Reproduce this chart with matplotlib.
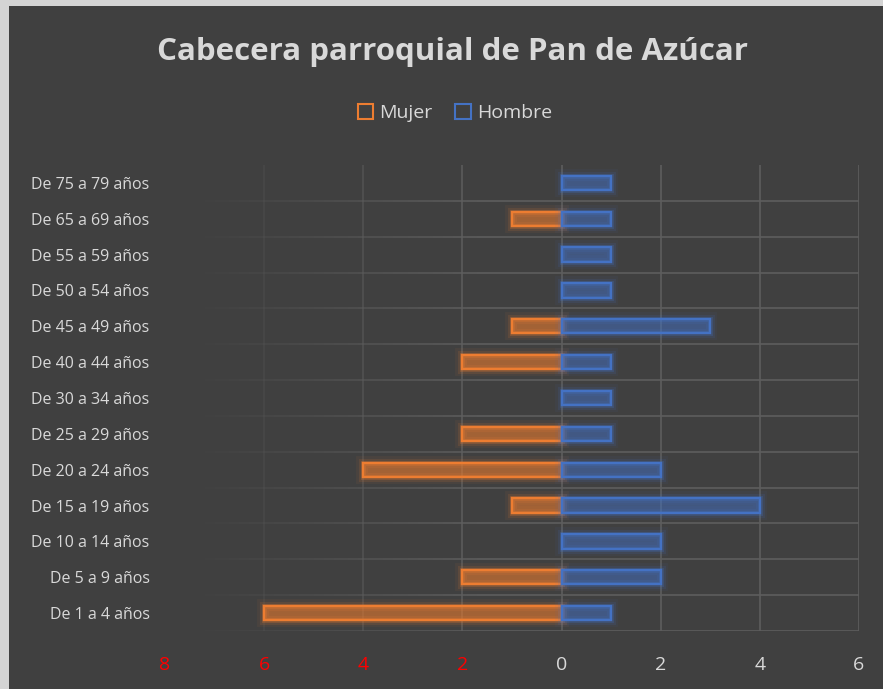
import matplotlib.pyplot as plt
import matplotlib.patheffects as pe
from matplotlib.patches import Rectangle
from matplotlib.collections import LineCollection
import numpy as np

plt.rcParams['font.family'] = ['Open Sans', 'DejaVu Sans']

grupos = ['De 75 a 79 años', 'De 65 a 69 años', 'De 55 a 59 años', 'De 50 a 54 años',
          'De 45 a 49 años', 'De 40 a 44 años', 'De 30 a 34 años', 'De 25 a 29 años',
          'De 20 a 24 años', 'De 15 a 19 años', 'De 10 a 14 años', 'De 5 a 9 años',
          'De 1 a 4 años']
mujer = [0, 1, 0, 0, 1, 2, 0, 2, 4, 1, 0, 2, 6]
hombre = [1, 1, 1, 1, 3, 1, 1, 1, 2, 4, 2, 2, 1]
xticks = [-8, -6, -4, -2, 0, 2, 4, 6]

bg = '#404040'
txt = '#d9d9d9'
naranja = '#ed7d31'
azul = '#4472c4'
grid = '#5e5e5e'

fig = plt.figure(figsize=(8.83, 6.89), dpi=100, facecolor='#d4d4d4')
fig.patches.append(Rectangle((9 / 883, 0), 1, 1 - 6 / 689, transform=fig.transFigure,
                             facecolor=bg, edgecolor='none', zorder=-5))
ax = fig.add_axes([165 / 883, 58 / 689, 694 / 883, 466 / 689])
ax.set_facecolor(bg)

n = len(grupos)
y = np.arange(n)[::-1]


def glow(c):
    return [pe.Stroke(linewidth=10, foreground=c, alpha=0.06),
            pe.Stroke(linewidth=6.5, foreground=c, alpha=0.12),
            pe.Stroke(linewidth=3.5, foreground=c, alpha=0.25),
            pe.Normal()]


for i in range(n):
    if mujer[i] > 0:
        b = ax.barh(y[i], -mujer[i], height=0.4,
                    facecolor=(0.93, 0.49, 0.19, 0.28), edgecolor=naranja, linewidth=1.7, zorder=3)
        b[0].set_path_effects(glow(naranja))
    b = ax.barh(y[i], hombre[i], height=0.4,
                facecolor=(0.27, 0.45, 0.77, 0.18), edgecolor=azul, linewidth=1.7, zorder=3)
    b[0].set_path_effects(glow(azul))

ax.set_xlim(-8, 6)
ax.set_ylim(-0.5, n - 0.5)
ax.set_xticks(xticks)
ax.set_xticklabels([str(abs(v)) for v in xticks], fontsize=14)
for lab, v in zip(ax.get_xticklabels(), xticks):
    lab.set_color('#ff0000' if v < 0 else txt)
ax.set_yticks(y)
ax.set_yticklabels(grupos, fontsize=11.5, color=txt)
ax.tick_params(length=0)
ax.tick_params(axis='x', pad=18)
ax.tick_params(axis='y', pad=11)

# gridlines fade out towards the left edge
def fade(x):
    return float(np.clip((x + 7.5) / 6.0, 0, 1))

for v in xticks[1:]:
    ax.axvline(v, color=grid, linewidth=1.2, alpha=max(fade(v), 0.15), zorder=1)
xs = np.linspace(-8, 6, 141)
for k in range(n):
    segs = [[(xs[j], k - 0.5), (xs[j + 1], k - 0.5)] for j in range(len(xs) - 1)]
    cols = [(0.37, 0.37, 0.37, fade(xs[j])) for j in range(len(xs) - 1)]
    ax.add_collection(LineCollection(segs, colors=cols, linewidths=1.2, zorder=1))
for s in ax.spines.values():
    s.set_visible(False)

fig.text(452 / 883, 1 - 52 / 689, 'Cabecera parroquial de Pan de Azúcar', ha='center', va='center',
         fontsize=22.5, fontweight='bold', color=txt)

h1 = Rectangle((0, 0), 1, 1, facecolor='none', edgecolor=naranja, linewidth=1.5)
h2 = Rectangle((0, 0), 1, 1, facecolor='none', edgecolor=azul, linewidth=1.5)
leg = fig.legend([h1, h2], ['Mujer', 'Hombre'], loc='center', bbox_to_anchor=(0.515, 1 - 113 / 689),
                 ncol=2, frameon=False, fontsize=14, labelcolor=txt, handlelength=0.8,
                 handleheight=0.8, handletextpad=0.3, columnspacing=1.2)

fig.savefig('out.png', dpi=100, facecolor=fig.get_facecolor())
